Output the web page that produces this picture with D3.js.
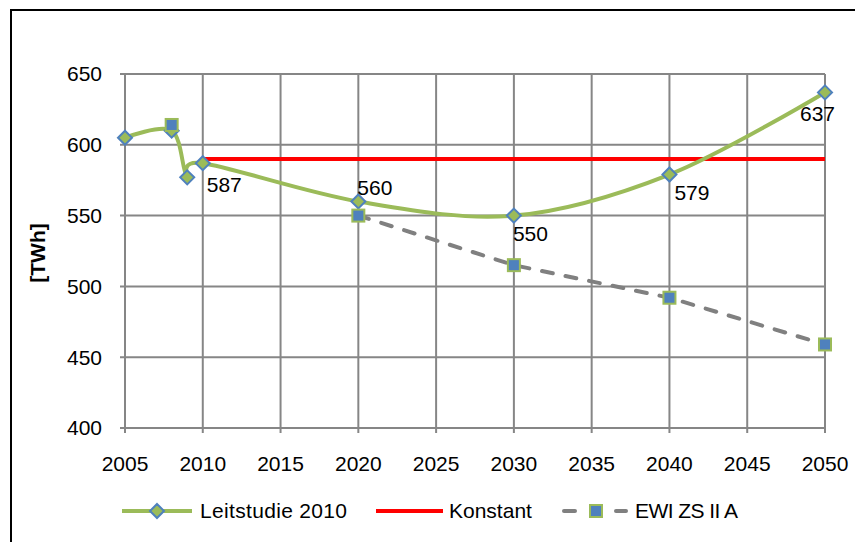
<!DOCTYPE html>
<html lang="de">
<head>
<meta charset="utf-8">
<title>TWh Szenarien</title>
<script src="https://d3js.org/d3.v7.min.js"></script>
<style>
  body { margin: 0; background: #fff; }
  text { font-family: "Liberation Sans", Arial, sans-serif; fill: #000; font-size: 21px; }
</style>
</head>
<body>
<svg width="855" height="542"></svg>
<script>
// data
const leitYears = [2005, 2008, 2009, 2010, 2020, 2030, 2040, 2050];
const leitValues = [605, 610, 577, 587, 560, 550, 579, 637];
const leitLabelYears = [2010, 2020, 2030, 2040, 2050];

const konstYears = [2010, 2050];
const konstValues = [590, 590];

const ewiYears = [2008, 2010, 2020, 2030, 2040, 2050];
const ewiValues = [614, null, 550, 515, 492, 459];

const xTicks = [2005, 2010, 2015, 2020, 2025, 2030, 2035, 2040, 2045, 2050];
const yTicks = [400, 450, 500, 550, 600, 650];

const seriesNames = ["Leitstudie 2010", "Konstant", "EWI ZS II A"];

// label placement (offset from the point, px)
const labelOffset = {2010: [4, 29], 2020: [-1, -6], 2030: [-1, 25], 2040: [5, 25], 2050: [-25, 29]};

const green = "#9BBB59", blue = "#4F81BD", red = "#FF0000", grey = "#808080", gridC = "#868686";

const svg = d3.select("svg");

// outer frame
svg.append("rect")
    .attr("x", 11).attr("y", 10)
    .attr("width", 900).attr("height", 600)
    .attr("fill", "none").attr("stroke", "#000").attr("stroke-width", 2);

const x = d3.scaleLinear().domain([2005, 2050]).range([125, 825]);
const y = d3.scaleLinear().domain([400, 650]).range([428, 74]);

// grid
svg.append("g").selectAll("line")
    .data(xTicks)
    .join("line")
    .attr("x1", d => x(d)).attr("x2", d => x(d))
    .attr("y1", y(650)).attr("y2", y(400) + 5)
    .attr("stroke", gridC).attr("stroke-width", 2);

svg.append("g").selectAll("line")
    .data(yTicks)
    .join("line")
    .attr("x1", x(2005) - 5).attr("x2", x(2050))
    .attr("y1", d => y(d)).attr("y2", d => y(d))
    .attr("stroke", gridC).attr("stroke-width", 2);

// tick labels
svg.append("g").selectAll("text")
    .data(yTicks)
    .join("text")
    .attr("x", 102).attr("y", d => y(d))
    .attr("dy", "0.35em")
    .attr("text-anchor", "end")
    .text(d => d);

svg.append("g").selectAll("text")
    .data(xTicks)
    .join("text")
    .attr("x", d => x(d)).attr("y", 471)
    .attr("text-anchor", "middle")
    .text(d => d);

// axis title
svg.append("text")
    .attr("transform", "translate(45,253) rotate(-90)")
    .attr("text-anchor", "middle")
    .style("font-weight", "bold")
    .text("[TWh]");

// lines
const konst = konstYears.map((d, i) => ({yr: d, v: konstValues[i]}));
const leit = leitYears.map((d, i) => ({yr: d, v: leitValues[i]}));
const ewi = ewiYears.map((d, i) => ({yr: d, v: ewiValues[i]}));

const straight = d3.line().x(d => x(d.yr)).y(d => y(d.v)).defined(d => d.v != null);
const smooth = d3.line().x(d => x(d.yr)).y(d => y(d.v)).curve(d3.curveCardinal.tension(0));

svg.append("path").attr("d", straight(konst))
    .attr("fill", "none").attr("stroke", red).attr("stroke-width", 4);

svg.append("path").attr("d", smooth(leit))
    .attr("fill", "none").attr("stroke", green).attr("stroke-width", 4);

svg.append("path").attr("d", straight(ewi))
    .attr("fill", "none").attr("stroke", grey).attr("stroke-width", 4)
    .attr("stroke-dasharray", "11 13").attr("stroke-linecap", "round");

// markers
function diamond(g, cx, cy) {
    g.append("path")
        .attr("d", `M${cx},${cy - 7}L${cx + 7},${cy}L${cx},${cy + 7}L${cx - 7},${cy}Z`)
        .attr("fill", green).attr("stroke", blue).attr("stroke-width", 2);
}
function square(g, cx, cy) {
    g.append("rect")
        .attr("x", cx - 6).attr("y", cy - 6).attr("width", 12).attr("height", 12)
        .attr("fill", blue).attr("stroke", green).attr("stroke-width", 2);
}

const mk = svg.append("g");
leit.forEach(d => diamond(mk, x(d.yr), y(d.v)));
ewi.filter(d => d.v != null).forEach(d => square(mk, x(d.yr), y(d.v)));

// data labels
svg.append("g").selectAll("text")
    .data(leit.filter(d => leitLabelYears.includes(d.yr)))
    .join("text")
    .attr("x", d => x(d.yr) + labelOffset[d.yr][0])
    .attr("y", d => y(d.v) + labelOffset[d.yr][1])
    .text(d => d.v);

// legend
const lg = svg.append("g");
const ly = 511;
lg.append("line").attr("x1", 122).attr("x2", 192).attr("y1", ly).attr("y2", ly)
    .attr("stroke", green).attr("stroke-width", 4);
diamond(lg, 157, ly);
lg.append("text").attr("x", 200).attr("y", ly).attr("dy", "0.35em")
    .attr("textLength", 147).attr("lengthAdjust", "spacing")
    .text(seriesNames[0]);

lg.append("line").attr("x1", 376).attr("x2", 443).attr("y1", ly).attr("y2", ly)
    .attr("stroke", red).attr("stroke-width", 4);
lg.append("text").attr("x", 449).attr("y", ly).attr("dy", "0.35em")
    .text(seriesNames[1]);

lg.append("line").attr("x1", 564).attr("x2", 575).attr("y1", ly).attr("y2", ly)
    .attr("stroke", grey).attr("stroke-width", 4).attr("stroke-linecap", "round");
lg.append("line").attr("x1", 616).attr("x2", 626).attr("y1", ly).attr("y2", ly)
    .attr("stroke", grey).attr("stroke-width", 4).attr("stroke-linecap", "round");
square(lg, 596, ly);
lg.append("text").attr("x", 635).attr("y", ly).attr("dy", "0.35em")
    .attr("textLength", 103).attr("lengthAdjust", "spacing")
    .text(seriesNames[2]);
</script>
</body>
</html>
